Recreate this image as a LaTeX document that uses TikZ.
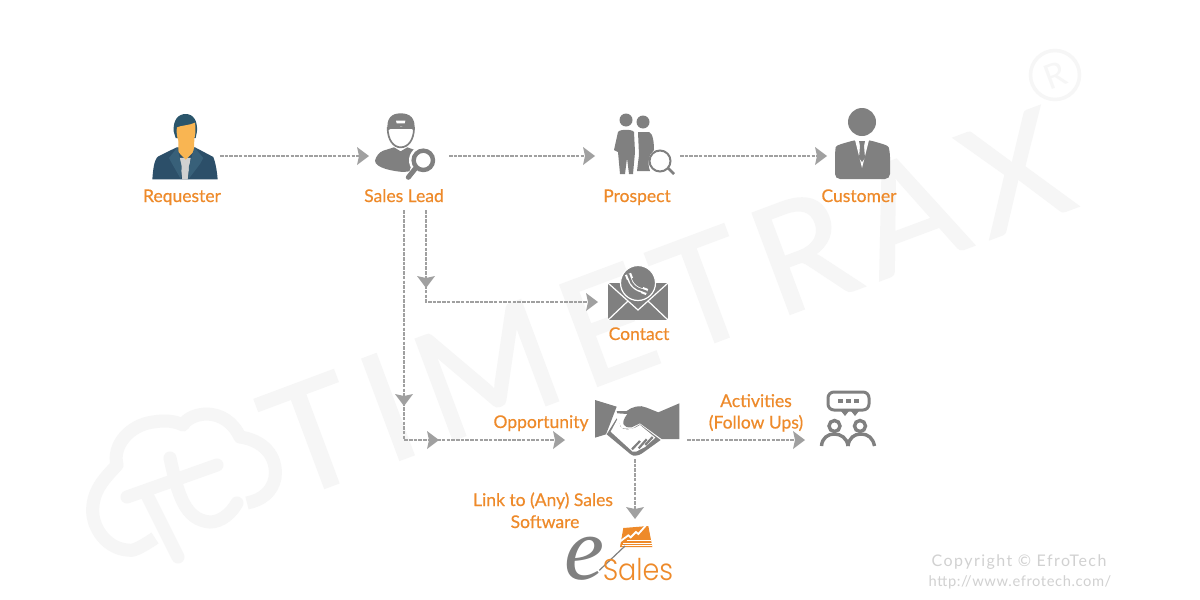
\documentclass[tikz,border=0pt]{standalone}
\usepackage{fontspec}
\setmainfont{Lato}
\newfontfamily\labfont[FakeBold=0.45]{Lato}
\newfontfamily\wmfont[FakeBold=1.3,LetterSpace=10]{Lato}
\usetikzlibrary{arrows.meta,calc}
\definecolor{ora}{HTML}{EE8A2A}
\definecolor{ico}{HTML}{808080}
\definecolor{con}{HTML}{A0A0A0}
\definecolor{wm}{HTML}{F6F6F6}
\definecolor{suit}{HTML}{2C4F69}
\definecolor{lapel}{HTML}{386079}
\definecolor{hair}{HTML}{2A556B}
\definecolor{skin}{HTML}{F9B552}
\tikzset{
 lab/.style={text=ora,font=\labfont\fontsize{17.5}{21.7}\selectfont,inner sep=0pt,align=center},
 flow/.style={draw=con,line width=1.25pt,dash pattern=on 3.5pt off 1.2pt},
 tip/.style={fill=con,draw=none},
 wmt/.style={text=wm,inner sep=0pt},
 ic/.style={fill=ico,draw=none},
 third/.style={x=0.3333pt,y=-0.3333pt},
}
\newcommand{\headat}[2]{\fill[tip,shift={#1},rotate=#2] (0,0) -- (-12,-9) -- (-10,0) -- (-12,9) -- cycle;}
\begin{document}
\begin{tikzpicture}[x=1pt,y=-1pt]
\useasboundingbox (0,0) rectangle (1200,600);
\fill[white] (0,0) rectangle (1200,600);
% watermark
\node[wmt,rotate=20.5,font=\wmfont\fontsize{150}{150}\selectfont] (wmark) at (666,303) {TIMETRAX};
\draw[wm,line width=3.5pt] (1055,75) circle (24.5);
\node[wmt,rotate=20.5,font=\fontsize{34}{34}\selectfont] (wreg) at (1055,75) {R};
\draw[wm,line width=13pt,line join=round]
 (155,538) .. controls (140,548) and (132,552) .. (127,550)
 .. controls (105,548) and (90,525) .. (93,505)
 .. controls (95,488) and (105,478) .. (117,465)
 .. controls (112,445) and (130,425) .. (153,422)
 .. controls (165,420) and (175,421) .. (183,425)
 .. controls (190,412) and (225,405) .. (240,437)
 .. controls (262,440) and (278,455) .. (275,478)
 .. controls (272,492) and (262,500) .. (247,503);
\draw[wm,line width=13pt,line cap=round] (127,497) -- (217,465);
\draw[wm,line width=13pt,line cap=round] (148,497) -- (178,557);
\draw[wm,line width=13pt,line cap=round] (170,458) .. controls (178,495) and (185,520) .. (210,522) .. controls (222,522) and (232,512) .. (237,503);

% labels
\node[lab,anchor=base] (lreq) at (182,202) {Requester};
\node[lab,anchor=base] (llead) at (404,202) {Sales Lead};
\node[lab,anchor=base] (lpro) at (637,202) {Prospect};
\node[lab,anchor=base] (lcus) at (859,202) {Customer};
\node[lab,anchor=base] (lcon) at (639,340) {Contact};
\node[lab,anchor=base] (lopp) at (541,428) {Opportunity};
\node[lab,anchor=base] (lact) at (756,407) {Activities};
\node[lab,anchor=base] (lact2) at (756,428.5) {(Follow Ups)};
\node[lab,anchor=base] (llink) at (543,506) {Link to (Any) Sales};
\node[lab,anchor=base] (llink2) at (545,528) {Software};
\node[text=black!18,font=\fontsize{16}{18}\selectfont\addfontfeatures{LetterSpace=9},inner sep=0pt,anchor=base] (copy) at (1019,566) {Copyright © EfroTech};
\node[text=black!18,font=\fontsize{14.7}{18}\selectfont\addfontfeatures{LetterSpace=4},inner sep=0pt,anchor=base] (url) at (1020,586) {http://www.efrotech.com/};

% Requester
\begin{scope}[shift={(145,108)},third]
\fill[suit] (22,214) .. controls (24,190) and (26,155) .. (40,145) -- (95,118) -- (150,118) -- (205,147) .. controls (212,165) and (216,190) .. (218,214) -- cycle;
\fill[black!18] (103,150) -- (137,150) -- (128,214) -- (112,214) -- cycle;
\fill[skin] (100,92) -- (148,92) -- (147,130) -- (122,155) -- (100,132) -- cycle;
\fill[lapel] (97,118) -- (72,150) -- (80,165) -- (108,214) -- (110,175) -- cycle;
\fill[lapel] (148,118) -- (175,150) -- (165,168) -- (130,214) -- (132,175) -- cycle;
\fill[hair] (86,70) .. controls (84,35) and (100,18) .. (122,18) .. controls (145,18) and (158,38) .. (156,70) -- (152,90) -- (92,90) -- cycle;
\fill[skin] (96,58) .. controls (108,52) and (135,52) .. (150,44) .. controls (153,65) and (152,85) .. (145,98) .. controls (138,110) and (128,114) .. (122,114) .. controls (110,112) and (102,104) .. (98,92) .. controls (95,80) and (94,68) .. (96,58) -- cycle;
\end{scope}

% Sales Lead
\begin{scope}[shift={(370,108)},third]
\fill[ic] (15,158) .. controls (18,145) and (28,132) .. (40,128) -- (72,118) -- (92,130) -- (112,118) -- (140,128) -- (118,190) -- (100,192) .. controls (70,190) and (15,180) .. (15,158) -- cycle;
\draw[ico,line width=1.7pt,fill=white] (53,60) .. controls (53,95) and (70,118) .. (92,118) .. controls (115,118) and (132,95) .. (132,60) -- cycle;
\fill[ic] (53,68) .. controls (48,30) and (65,16) .. (92,16) .. controls (120,16) and (138,30) .. (133,68) .. controls (115,52) and (72,52) .. (53,68) -- cycle;
\fill[white] (78,38) -- (106,38) -- (104,46) -- (80,46) -- cycle;
\fill[white] (160,157) circle (43);
\draw[ico,line width=4.4pt] (160,157) circle (29);
\draw[ico,line width=5pt,line cap=round] (135,183) -- (115,208);
\end{scope}

% Prospect
\fill[ic] (626,120) circle (6.5);
\fill[ic] (643,122) circle (6.5);
\fill[ic] (618,132) .. controls (620,129) and (632,129) .. (634,132) -- (635,152) -- (633,174) -- (629,174) -- (627,158) -- (625,174) -- (620,174) -- (618,152) -- (614,150) -- cycle;
\fill[ic] (638,132) -- (649,132) .. controls (653,133) and (654,143) .. (654,150) -- (650,155) .. controls (648,160) and (648,166) .. (650,171) -- (637,171) -- (639,155) -- cycle;
\draw[ico,line width=2pt,fill=white] (660,161) circle (10.5);
\draw[ico,line width=2.5pt] (668,168) -- (674,174);

% Customer
\fill[ic] (862,122) circle (14);
\fill[ic,rounded corners=5pt] (835,179) -- (835,152) .. controls (836,145) and (845,143) .. (855,140) -- (869,140) .. controls (879,143) and (888,145) .. (890,152) -- (890,179) -- cycle;
\fill[white] (855,140) -- (862,168) -- (869,140) -- cycle;
\fill[ic] (859,141) -- (865,141) -- (864,146) -- (865,158) -- (862,162) -- (859,158) -- (860,146) -- cycle;

% Envelope
\fill[ic] (608,283) -- (668,283) -- (668,320) -- (608,320) -- cycle;
\draw[white,line width=1.2pt] (608,283) -- (638,310) -- (668,283);
\draw[white,line width=1.2pt] (608,320) -- (628,301);
\draw[white,line width=1.2pt] (668,320) -- (648,301);
\draw[white,line width=1.2pt,fill=ico] (638,283) circle (17.5);
\draw[white,line width=4.4pt] (629,276) .. controls (630,284) and (636,290) .. (645,291);
\draw[white,line width=6.5pt] (628,274) -- (630,279);
\draw[white,line width=6.5pt] (642,290) -- (647,292);
\draw[ico,line width=2.2pt] (628,274) -- (630,279) .. controls (631,284) and (636,289) .. (642,290) -- (647,292);

% Handshake
\begin{scope}[shift={(590,395)},third]
\fill[ic] (15,15) -- (80,35) -- (48,118) -- (15,128) -- cycle;
\fill[ic] (80,48) -- (110,48) .. controls (125,36) and (150,28) .. (170,38) -- (205,52) -- (268,25) -- (268,132) -- (215,132) -- (150,85) -- (125,97) .. controls (100,100) and (90,85) .. (112,57) -- (82,55) -- cycle;
\fill[ic] (50,118) -- (122,178) .. controls (130,185) and (145,182) .. (155,176) -- (212,135) -- (150,88) -- (125,102) -- (95,100) -- (80,70) -- cycle;
\fill[white] (62,110) -- (88,62) -- (98,62) .. controls (85,78) and (85,95) .. (100,102) .. controls (118,106) and (135,100) .. (150,90) -- (196,128) -- (165,156) -- (138,170) -- (128,170) -- cycle;
\draw[ico,line width=2.2pt] (126,163) -- (150,138);
\draw[ico,line width=2.2pt] (146,160) -- (170,133);
\draw[ico,line width=2.2pt] (166,150) -- (188,126);
\end{scope}

% Activities icon
\draw[ico,line width=3pt,rounded corners=6pt] (828,392) rectangle (869,410);
\fill[ic] (841,411) -- (849,411) -- (845,416) -- cycle;
\fill[ic] (851,411) -- (859,411) -- (855,416) -- cycle;
\fill[ic] (838,399) rectangle (843,403);
\fill[ic] (846,399) rectangle (851,403);
\fill[ic] (854,399) rectangle (859,403);
\draw[ico,line width=3.4pt] (834.5,426) circle (5.5);
\draw[ico,line width=3.4pt] (860,426) circle (5.5);
\draw[ico,line width=3.4pt] (821.5,446) .. controls (822,438) and (828,434) .. (834,434) .. controls (841,434) and (847,438) .. (848,446);
\draw[ico,line width=3.4pt] (848,446) .. controls (849,438) and (854,434) .. (861,434) .. controls (868,434) and (873,438) .. (874.5,446);

% eSales
\begin{scope}[shift={(560,522)},third]
\fill[ora] (190,18) -- (265,12) -- (277,75) -- (180,75) -- cycle;
\draw[white,line width=1.8pt] (178,60) -- (205,40) -- (212,46) -- (228,30) -- (235,36) -- (258,10);
\draw[white,line width=.5pt] (200,55) -- (272,55) (190,63) -- (275,63) (185,70) -- (277,70);
\draw[ico,line width=1.2pt] (118,145) -- (195,72);
\end{scope}
\node[text=ico,font=\fontsize{90}{90}\selectfont\fontspec{Liberation Serif}\itshape,inner sep=0pt,anchor=base] (ee) at (584,579) {e};
\node[text=ora,xscale=.9,font=\fontsize{30}{30}\selectfont\fontspec{Poppins Light},inner sep=0pt,anchor=base] (sales) at (638,580) {Sales};

% connectors
\coordinate (r1) at (220,156); \coordinate (r2) at (360,156);
\draw[flow] (r1) -- (r2);
\headat{(369,156)}{0}
\coordinate (s1) at (449,156); \coordinate (s2) at (586,156);
\draw[flow] (s1) -- (s2);
\headat{(595,156)}{0}
\coordinate (p1) at (680,156); \coordinate (p2) at (818,156);
\draw[flow] (p1) -- (p2);
\headat{(827,156)}{0}
\coordinate (a1) at (426,210);
\coordinate (a2) at (426,302);
\coordinate (a3) at (590,302);
\draw[flow] (a1) -- (a2) -- (a3);
\headat{(426,288)}{-90}
\headat{(598,302)}{0}
\coordinate (b1) at (404,210);
\coordinate (b2) at (404,440);
\coordinate (b3) at (556,440);
\draw[flow] (b1) -- (b2) -- (b3);
\headat{(404,406)}{-90}
\headat{(439,440)}{0}
\headat{(565,440)}{0}
\coordinate (c1) at (687,440); \coordinate (c2) at (796,440);
\draw[flow] (c1) -- (c2);
\headat{(805,440)}{0}
\coordinate (d1) at (635,459); \coordinate (d2) at (635,510);
\draw[flow] (d1) -- (d2);
\headat{(635,519)}{-90}
\end{tikzpicture}
\end{document}
